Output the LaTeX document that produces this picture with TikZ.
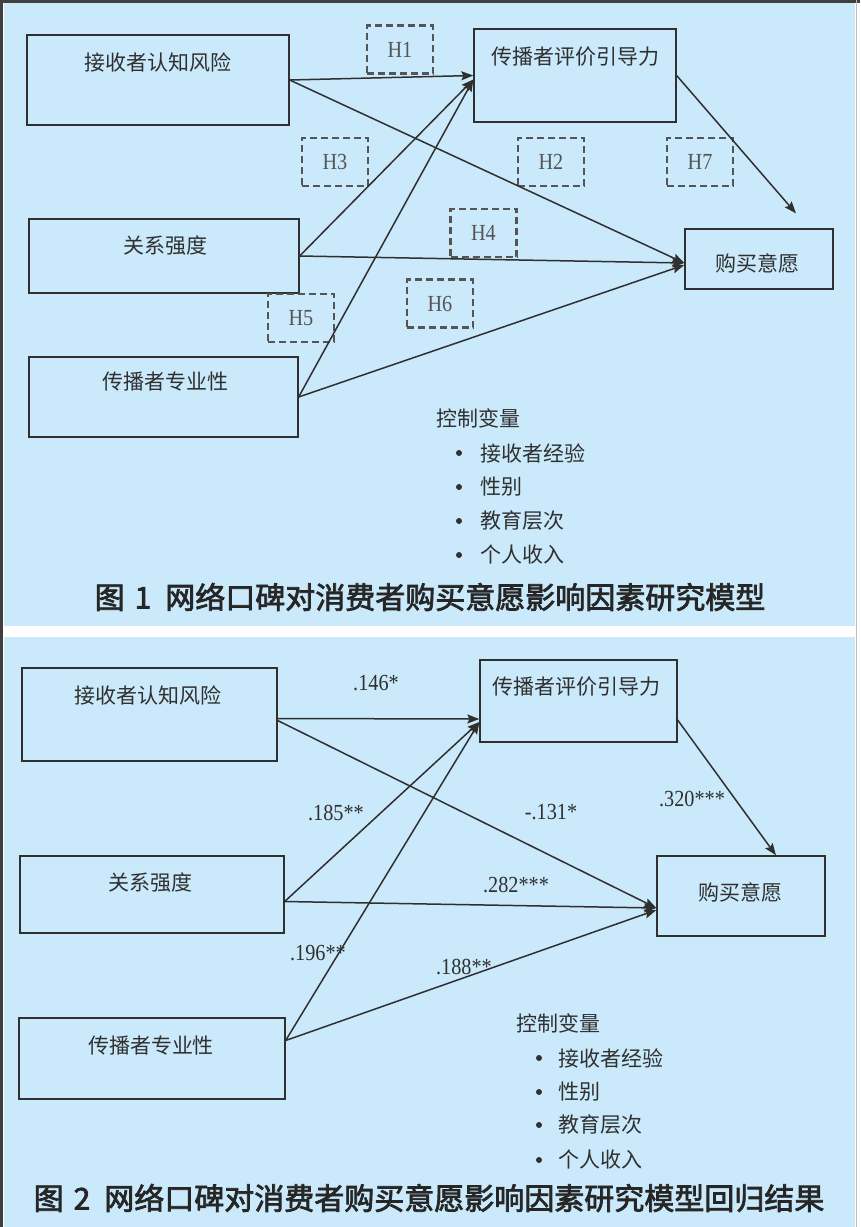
\documentclass[tikz,border=0pt]{standalone}
\usepackage{fontspec}
\setmainfont{Liberation Serif}
\newfontfamily\cjk{Noto Sans CJK SC}
\newfontfamily\capfont[FakeBold=2.5]{Noto Sans CJK SC}
\newfontfamily\numfont[FakeStretch=0.88]{Liberation Serif}
\usepackage{xcolor}
\usepackage{tikz}
\usetikzlibrary{arrows.meta}
\definecolor{panelblue}{RGB}{202,233,250}
\definecolor{inkgray}{RGB}{48,48,48}
\definecolor{dashgray}{RGB}{85,85,85}

\begin{document}
\begin{tikzpicture}[x=1pt,y=-1pt,>={Stealth[length=12pt,width=9pt,inset=2pt]},
  varbox/.style={draw=inkgray,line width=1.3pt,inner sep=0pt},
  varname/.style={font=\cjk\fontsize{21}{24}\selectfont,text=inkgray,inner sep=0pt},
  hyp/.style={draw=dashgray,line width=2.3pt,dash pattern=on 7pt off 4pt,inner sep=0pt,minimum width=66pt,minimum height=48pt,font=\numfont\fontsize{23}{25}\selectfont,text=dashgray},
  coef/.style={font=\numfont\fontsize{23}{25}\selectfont,text=inkgray,inner sep=0pt},
  link/.style={->,draw=inkgray,line width=1.5pt},
  ctrl/.style={font=\cjk\fontsize{21}{24}\selectfont,text=inkgray,inner sep=0pt,anchor=west},
  dot/.style={circle,fill=inkgray,minimum size=6pt,inner sep=0pt},
  caption/.style={font=\capfont\fontsize{30}{34}\selectfont,text=black!85,inner sep=0pt}]
  \useasboundingbox (0,0) rectangle (860,1227);
  \fill[white] (0,0) rectangle (860,1227);
  \fill[panelblue] (4,3) rectangle (855,626);
  \fill[panelblue] (4,637) rectangle (855,1227);
  \draw[black!75,line width=3pt] (1.5,1227) -- (1.5,1.5) -- (860,1.5);
  \draw[black!25,line width=1.5pt] (856.5,0) -- (856.5,1227);

  % figure 1
  \node[varbox,minimum width=262pt,minimum height=90pt] (ra) at (158,80) {};
  \node[varbox,minimum width=202pt,minimum height=93pt] (rb) at (575,75.5) {};
  \node[varbox,minimum width=270pt,minimum height=74pt] (rc) at (164,256) {};
  \node[varbox,minimum width=148pt,minimum height=60pt] (rd) at (759,259) {};
  \node[varbox,minimum width=269pt,minimum height=80pt] (re) at (163.5,397) {};
  \node[varname] (ra-t) at (158,62) {接收者认知风险};
  \node[varname] (rb-t) at (575,57) {传播者评价引导力};
  \node[varname] (rc-t) at (165,246) {关系强度};
  \node[varname] (rd-t) at (757,263) {购买意愿};
  \node[varname] (re-t) at (165,382) {传播者专业性};

  \node[hyp] (h1) at (400,49.5) {H1};
  \node[hyp] (h3) at (335,162) {H3};
  \node[hyp] (h2) at (551,162) {H2};
  \node[hyp] (h7) at (700,162) {H7};
  \node[hyp] (h4) at (483.5,233) {H4};
  \node[hyp] (h5) at (301,318) {H5};
  \node[hyp] (h6) at (440,303.5) {H6};

  \draw[link] (ra.east) -- (rb.west);
  \draw[link] (ra.east) -- ([yshift=-4pt]rd.west);
  \draw[link] (rb.east) -- ([shift={(37pt,15pt)}]rd.north);
  \draw[link] (rc.east) -- ([yshift=-4pt]rb.west);
  \draw[link] (rc.east) -- ([yshift=-4pt]rd.west);
  \draw[link] (re.east) -- ([yshift=-4pt]rb.west);
  \draw[link] (re.east) -- ([yshift=-6pt]rd.west);

  \node[ctrl] (ctl1) at (436,418) {控制变量};
  \node[dot] (d11) at (459,453) {};
  \node[dot] (d12) at (459,487) {};
  \node[dot] (d13) at (459,521) {};
  \node[dot] (d14) at (459,555) {};
  \node[ctrl] (c11) at (480,453) {接收者经验};
  \node[ctrl] (c12) at (480,487) {性别};
  \node[ctrl] (c13) at (480,521) {教育层次};
  \node[ctrl] (c14) at (480,555) {个人收入};
  \node[caption] (cap1) at (430,597) {图\hspace{10pt}1\hspace{14pt}网络口碑对消费者购买意愿影响因素研究模型};

  % figure 2
  \node[varbox,minimum width=255pt,minimum height=93pt] (sa) at (149.5,714.5) {};
  \node[varbox,minimum width=197pt,minimum height=82pt] (sb) at (578.5,701) {};
  \node[varbox,minimum width=264pt,minimum height=77pt] (sc) at (152,894.5) {};
  \node[varbox,minimum width=168pt,minimum height=80pt] (sd) at (741,896) {};
  \node[varbox,minimum width=266pt,minimum height=81pt] (se) at (152,1058.5) {};
  \node[varname] (sa-t) at (148,695) {接收者认知风险};
  \node[varname] (sb-t) at (576,687) {传播者评价引导力};
  \node[varname] (sc-t) at (150,883) {关系强度};
  \node[varname] (sd-t) at (740,892) {购买意愿};
  \node[varname] (se-t) at (151,1045) {传播者专业性};

  \draw[link] ([yshift=-4pt]sa.east) -- ([yshift=-18pt]sb.west);
  \draw[link] ([yshift=-6pt]sa.east) -- ([yshift=-12pt]sd.west);
  \draw[link] ([yshift=-19pt]sb.east) -- ([xshift=35pt]sd.north);
  \draw[link] ([yshift=-7pt]sc.east) -- ([yshift=-21pt]sb.west);
  \draw[link] ([yshift=-7pt]sc.east) -- ([yshift=-12pt]sd.west);
  \draw[link] ([yshift=18pt]se.east) -- ([yshift=-21pt]sb.west);
  \draw[link] ([yshift=18pt]se.east) -- ([yshift=-14pt]sd.west);

  \node[coef] (k1) at (376,683) {.146*};
  \node[coef] (k2) at (336,813) {.185**};
  \node[coef] (k3) at (551,812) {-.131*};
  \node[coef] (k4) at (692,799) {.320***};
  \node[coef] (k5) at (516,885) {.282***};
  \node[coef] (k6) at (318,953) {.196**};
  \node[coef] (k7) at (464,967) {.188**};

  \node[ctrl] (ctl2) at (516,1023) {控制变量};
  \node[dot] (d21) at (539,1058) {};
  \node[dot] (d22) at (539,1092) {};
  \node[dot] (d23) at (539,1125) {};
  \node[dot] (d24) at (539,1160) {};
  \node[ctrl] (c21) at (558,1058) {接收者经验};
  \node[ctrl] (c22) at (558,1092) {性别};
  \node[ctrl] (c23) at (558,1125) {教育层次};
  \node[ctrl] (c24) at (558,1160) {个人收入};
  \node[caption] (cap2) at (429,1198) {图\hspace{10pt}2\hspace{14pt}网络口碑对消费者购买意愿影响因素研究模型回归结果};
\end{tikzpicture}
\end{document}
